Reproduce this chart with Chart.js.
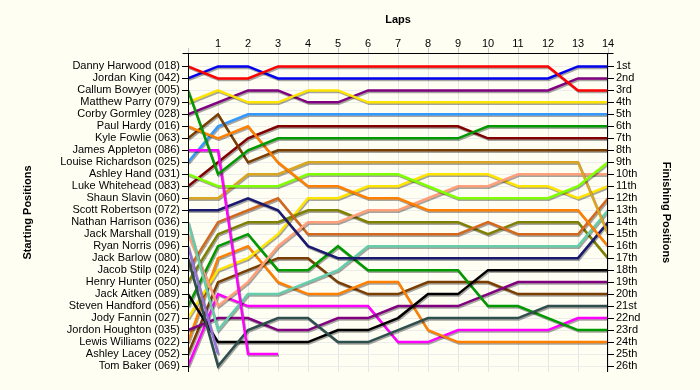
<!DOCTYPE html>
<html><head><meta charset="utf-8">
<script src="https://cdn.jsdelivr.net/npm/chart.js@4.4.1/dist/chart.umd.min.js"></script>
<style>html,body{margin:0;padding:0;background:#fffef3}canvas{display:block}</style>
</head><body>
<canvas id="c" width="700" height="390"></canvas>
<script>
const laps = [0,1,2,3,4,5,6,7,8,9,10,11,12,13,14];
const drivers = ["Danny Harwood (018)","Jordan King (042)","Callum Bowyer (005)","Matthew Parry (079)","Corby Gormley (028)","Paul Hardy (016)","Kyle Fowlie (063)","James Appleton (086)","Louise Richardson (025)","Ashley Hand (031)","Luke Whitehead (083)","Shaun Slavin (060)","Scott Robertson (072)","Nathan Harrison (036)","Jack Marshall (019)","Ryan Norris (096)","Jack Barlow (080)","Jacob Stilp (024)","Henry Hunter (050)","Jack Aitken (089)","Steven Handford (056)","Jody Fannin (027)","Jordon Houghton (035)","Lewis Williams (022)","Ashley Lacey (052)","Tom Baker (069)"];
const finishLabels = ["1st","2nd","3rd","4th","5th","6th","7th","8th","9th","10th","11th","12th","13th","14th","15th","16th","17th","18th","19th","20th","21st","22nd","23rd","24th","25th","26th"];

// position at laps 0..14 (null = retired)
const harwood    = [1,2,2,1,1,1,1,1,1,1,1,1,1,3,3];
const king       = [2,1,1,2,2,2,2,2,2,2,2,2,2,1,1];
const bowyer     = [3,10,8,7,7,7,7,7,7,7,6,6,6,6,6];
const parry      = [4,3,4,4,3,3,4,4,4,4,4,4,4,4,4];
const gormley    = [5,4,3,3,4,4,3,3,3,3,3,3,3,2,2];
const hardy      = [6,7,6,9,11,11,12,12,13,13,13,13,13,13,16];
const fowlie     = [7,5,9,8,8,8,8,8,8,8,8,8,8,8,8];
const appleton   = [8,8,25,25,null,null,null,null,null,null,null,null,null,null,null];
const richardson = [9,6,5,5,5,5,5,5,5,5,5,5,5,5,5];
const hand       = [10,11,11,11,10,10,10,10,11,12,12,12,12,11,9];
const whitehead  = [11,9,7,6,6,6,6,6,6,6,7,7,7,7,7];
const slavin     = [12,12,10,10,9,9,9,9,9,9,9,9,9,9,15];
const robertson  = [13,13,12,13,16,17,17,17,17,17,17,17,17,17,14];
const harrison   = [14,23,20,20,19,18,16,16,16,16,16,16,16,16,13];
const marshall   = [15,21,19,16,14,14,13,13,12,11,11,10,10,10,10];
const norris     = [16,25,null,null,null,null,null,null,null,null,null,null,null,null,null];
const barlow     = [17,26,23,22,22,24,24,23,22,22,22,22,21,21,21];
const stilp      = [18,14,13,12,15,15,15,15,15,15,14,15,15,15,12];
const hunter     = [19,15,14,14,13,13,14,14,14,14,15,14,14,14,17];
const aitken     = [20,24,24,24,24,23,23,22,20,20,18,18,18,18,18];
const handford   = [21,16,15,18,18,16,18,18,18,18,21,21,22,23,23];
const fannin     = [22,18,17,15,12,12,11,11,10,10,10,11,11,12,11];
const houghton   = [23,22,22,23,23,22,22,21,21,21,20,19,19,19,19];
const williams   = [24,17,16,19,20,20,19,19,23,24,24,24,24,24,24];
const lacey      = [25,19,18,17,17,19,20,20,19,19,19,20,20,20,20];
const baker      = [26,20,21,21,21,21,21,24,24,23,23,23,23,22,22];

const series = [harwood,king,bowyer,parry,gormley,hardy,fowlie,appleton,richardson,hand,whitehead,slavin,robertson,harrison,marshall,norris,barlow,stilp,hunter,aitken,handford,fannin,houghton,williams,lacey,baker];
const colors = ["#ff0000","#0000ee","#009a00","#ffe400","#800080","#ff8000","#7a3e00","#ff00ff","#3399ff","#80ff00","#800000","#daa520","#191970","#66cdaa","#ffa07a","#9370db","#2f4f4f","#d2691e","#808000","#000000","#009a00","#ffe400","#800080","#ff8000","#7a3e00","#ff00ff"];

const FONT = "'Liberation Sans', Arial, sans-serif";

const datasets = series.map((s, i) => ({
  label: drivers[i],
  data: s.map((p, k) => ({x: laps[k], y: p})).filter(pt => pt.y !== null),
  borderColor: colors[i],
  backgroundColor: colors[i],
  borderWidth: 2.5,
  pointRadius: 0,
  tension: 0,
  fill: false,
  yAxisID: 'y'
}));

const bgPlugin = {
  id: 'bg',
  beforeDraw(chart) {
    const c = chart.ctx;
    c.save(); c.fillStyle = '#fffef3'; c.fillRect(0, 0, chart.width, chart.height); c.restore();
  }
};
const shadowPlugin = {
  id: 'shadow',
  beforeDatasetDraw(chart) {
    const c = chart.ctx; c.save();
    c.shadowColor = 'rgba(0,0,0,0.35)'; c.shadowOffsetX = 1; c.shadowOffsetY = 1.5; c.shadowBlur = 0.5;
  },
  afterDatasetDraw(chart) { chart.ctx.restore(); }
};
const axesPlugin = {
  id: 'axesLines',
  afterDatasetsDraw(chart) {
    const {left, right, top, bottom} = chart.chartArea;
    const c = chart.ctx;
    c.save(); c.strokeStyle = '#000'; c.lineWidth = 1;
    const L = Math.round(left) + 0.5, R = Math.round(right) - 0.5, T = Math.round(top) + 0.5, B = Math.round(bottom);
    c.beginPath();
    c.moveTo(L - 6, T); c.lineTo(R + 6, T);
    c.moveTo(L, T); c.lineTo(L, B);
    c.moveTo(R, T); c.lineTo(R, B);
    c.stroke(); c.restore();
  }
};

new Chart(document.getElementById('c'), {
  type: 'line',
  data: { datasets },
  options: {
    responsive: false,
    animation: false,
    layout: { padding: { top: 0, left: 0, right: 0, bottom: 18 } },
    plugins: { legend: { display: false }, tooltip: { enabled: false } },
    scales: {
      x: {
        type: 'linear', position: 'top', min: 0, max: 14,
        afterBuildTicks: s => { s.ticks = laps.map(v => ({value: v})); },
        ticks: { callback: v => v === 0 ? '' : String(v), font: {family: FONT, size: 11}, color: '#000', padding: -3, maxRotation: 0, autoSkip: false },
        grid: { color: '#e6e6e6', tickColor: '#c8c8c8', tickLength: 5 },
        border: { display: false },
        title: { display: true, text: 'Laps', font: {family: FONT, size: 11, weight: 'bold'}, color: '#000', padding: {top: 13, bottom: 0} },
        afterFit: s => { s.height = 53; }
      },
      y: {
        type: 'linear', position: 'left', reverse: true, min: -0.12, max: 26.5,
        afterBuildTicks: s => { s.ticks = drivers.map((d, i) => ({value: i + 1})); },
        ticks: { callback: v => drivers[v - 1] || '', autoSkip: false, font: {family: FONT, size: 11}, color: '#000', padding: 2 },
        grid: { color: '#ececec', tickColor: '#000', tickLength: 6 },
        border: { display: false },
        title: { display: true, text: 'Starting Positions', font: {family: FONT, size: 11, weight: 'bold'}, color: '#000', padding: {top: 21, bottom: 0} },
        afterFit: s => { s.width = 188; }
      },
      y2: {
        type: 'linear', position: 'right', reverse: true, min: -0.12, max: 26.5,
        afterBuildTicks: s => { s.ticks = finishLabels.map((d, i) => ({value: i + 1})); },
        ticks: { callback: v => finishLabels[v - 1] || '', autoSkip: false, font: {family: FONT, size: 11}, color: '#000', padding: 2 },
        grid: { drawOnChartArea: false, tickColor: '#000', tickLength: 6 },
        border: { display: false },
        title: { display: true, text: 'Finishing Positions', font: {family: FONT, size: 11, weight: 'bold'}, color: '#000', padding: {top: 27, bottom: 0} },
        afterFit: s => { s.width = 92; }
      }
    }
  },
  plugins: [bgPlugin, shadowPlugin, axesPlugin]
});
</script>
</body></html>
